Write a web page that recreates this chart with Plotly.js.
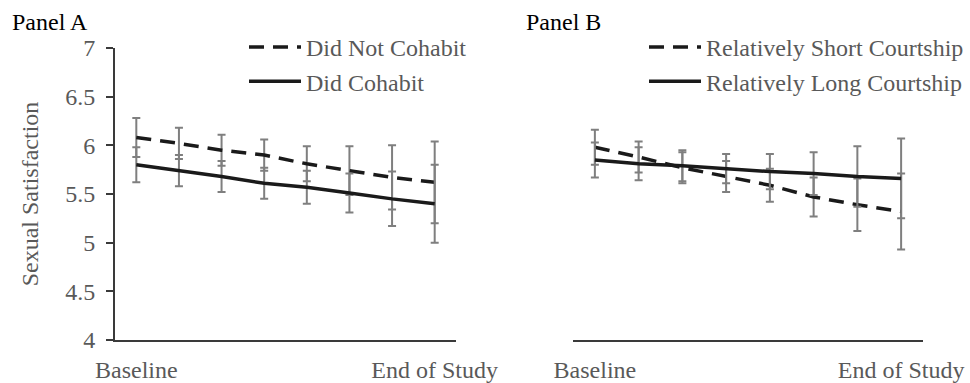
<!DOCTYPE html>
<html>
<head>
<meta charset="utf-8">
<script src="https://cdn.plot.ly/plotly-3.0.1.min.js"></script>
<style>html,body{margin:0;padding:0;background:#fff;}#chart{width:970px;height:383px;}</style>
</head>
<body>
<div id="chart"></div>
<script>
// measurement waves (Baseline ... End of Study)
const waves = [1, 2, 3, 4, 5, 6, 7, 8];
const tickVals = [1, 8];
const tickLabels = ["Baseline", "End of Study"];

// Panel A
const notCohabit = [6.08, 6.02, 5.95, 5.90, 5.81, 5.74, 5.67, 5.62];
const notCohabitErr = [0.20, 0.16, 0.16, 0.16, 0.18, 0.25, 0.33, 0.42];
const cohabit = [5.80, 5.74, 5.68, 5.61, 5.57, 5.51, 5.45, 5.40];
const cohabitErr = [0.18, 0.16, 0.16, 0.16, 0.17, 0.20, 0.28, 0.40];

// Panel B
const shortCourt = [5.98, 5.88, 5.77, 5.68, 5.59, 5.47, 5.39, 5.32];
const shortCourtErr = [0.18, 0.16, 0.16, 0.16, 0.17, 0.20, 0.27, 0.39];
const longCourt = [5.85, 5.81, 5.79, 5.76, 5.73, 5.71, 5.68, 5.66];
const longCourtErr = [0.18, 0.17, 0.16, 0.15, 0.18, 0.22, 0.31, 0.41];

const errStyle = (arr) => ({type: 'data', array: arr, visible: true, color: '#7f7f7f', thickness: 2, width: 4});
const dashed = {color: '#1a1a1a', width: 3.5, dash: '15px,9px'};
const solid = {color: '#1a1a1a', width: 3.5};

const traces = [
  {x: waves, y: notCohabit, error_y: errStyle(notCohabitErr), mode: 'lines', line: dashed, name: 'Did Not Cohabit', xaxis: 'x', yaxis: 'y', legend: 'legend'},
  {x: waves, y: cohabit, error_y: errStyle(cohabitErr), mode: 'lines', line: solid, name: 'Did Cohabit', xaxis: 'x', yaxis: 'y', legend: 'legend'},
  {x: waves, y: shortCourt, error_y: errStyle(shortCourtErr), mode: 'lines', line: dashed, name: 'Relatively Short Courtship', xaxis: 'x2', yaxis: 'y2', legend: 'legend2'},
  {x: waves, y: longCourt, error_y: errStyle(longCourtErr), mode: 'lines', line: solid, name: 'Relatively Long Courtship', xaxis: 'x2', yaxis: 'y2', legend: 'legend2'}
];

const font = {family: 'Liberation Serif, Times New Roman, serif', size: 24, color: '#595959'};
const xaxisBase = {
  range: [0.5, 8.5], tickvals: tickVals, ticktext: tickLabels,
  showline: true, linecolor: '#3a3a3a', linewidth: 2, showgrid: false, zeroline: false,
  ticks: 'outside', ticklen: 7, tickcolor: 'rgba(0,0,0,0)',
  tickfont: font, fixedrange: true
};
const layout = {
  width: 970, height: 383,
  margin: {l: 0, r: 0, t: 0, b: 0},
  paper_bgcolor: '#fff', plot_bgcolor: '#fff',
  font: font,
  showlegend: true,
  xaxis: Object.assign({}, xaxisBase, {domain: [115/970, 456/970], anchor: 'y'}),
  xaxis2: Object.assign({}, xaxisBase, {domain: [573/970, 923/970], anchor: 'y2'}),
  yaxis: {
    domain: [1 - 340/383, 1 - 48/383], range: [4, 7], dtick: 0.5, anchor: 'x',
    showline: true, linecolor: '#3a3a3a', linewidth: 2, showgrid: false, zeroline: false,
    ticks: 'outside', ticklen: 7, tickcolor: '#3a3a3a', tickwidth: 2,
    tickfont: font, ticklabelstandoff: 6,
    title: {text: 'Sexual Satisfaction', font: font, standoff: 20}
  },
  yaxis2: {
    domain: [1 - 340/383, 1 - 48/383], range: [4, 7], anchor: 'x2', visible: false
  },
  legend: {x: 244/970, y: 1 - 25/383, xanchor: 'left', yanchor: 'top', font: font, bgcolor: 'rgba(0,0,0,0)', itemwidth: 52, tracegroupgap: 0},
  legend2: {x: 644/970, y: 1 - 25/383, xanchor: 'left', yanchor: 'top', font: font, bgcolor: 'rgba(0,0,0,0)', itemwidth: 52, tracegroupgap: 0},
  annotations: [
    {text: 'Panel A', xref: 'paper', yref: 'paper', x: 10/970, y: 1 - 22/383, xanchor: 'left', yanchor: 'middle', showarrow: false, font: {family: font.family, size: 24, color: '#000'}},
    {text: 'Panel B', xref: 'paper', yref: 'paper', x: 524/970, y: 1 - 22/383, xanchor: 'left', yanchor: 'middle', showarrow: false, font: {family: font.family, size: 24, color: '#000'}}
  ]
};
Plotly.newPlot('chart', traces, layout, {displayModeBar: false, staticPlot: true});
</script>
</body>
</html>
